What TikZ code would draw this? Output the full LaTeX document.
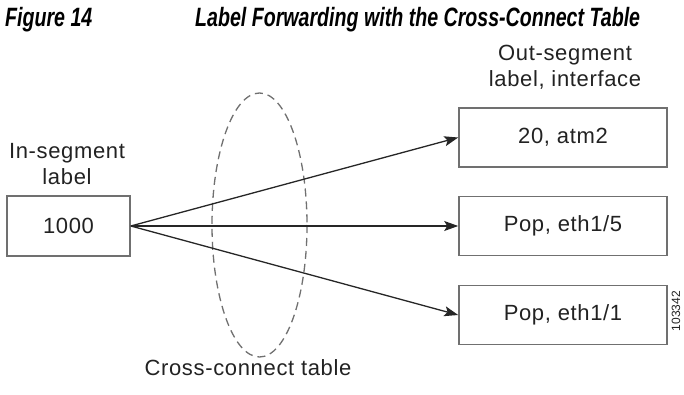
\documentclass[tikz,border=0pt]{standalone}
\usepackage{fontspec}
\setmainfont{Liberation Sans}
\newfontfamily\bodyfont[LetterSpace=3]{Liberation Sans}
\newfontfamily\titlefont[FakeStretch=0.74]{Liberation Sans}
\usetikzlibrary{arrows.meta}
\definecolor{boxline}{HTML}{707070}
\definecolor{txt}{HTML}{222222}
\tikzset{
  seg/.style={draw=boxline, line width=1.6pt, minimum width=208pt, minimum height=59pt, inner sep=0pt, font=\bodyfont\fontsize{22}{26}\selectfont, text=txt},
  inseg/.style={seg, minimum width=123pt, minimum height=60pt},
  lbl/.style={align=center, font=\bodyfont\fontsize{22}{26}\selectfont, text=txt, inner sep=0pt},
  fwd/.style={draw=black!85, line width=1.3pt, -{Stealth[length=14pt,width=10pt,inset=3pt]}},
  ttl/.style={anchor=base west, inner sep=0pt, font=\titlefont\bfseries\itshape\fontsize{26.5}{30}\selectfont}
}
\begin{document}
\begin{tikzpicture}[x=1pt,y=-1pt]
\useasboundingbox (0,0) rectangle (684,395);
\node[ttl] (fig) at (5,27) {Figure 14};
\node[ttl] (title) at (195,27) {Label Forwarding with the Cross-Connect Table};
% cross-connect table ellipse
\draw[boxline, line width=1.3pt, dash pattern=on 8pt off 5pt] (259.5,225) ellipse [x radius=47.5, y radius=132];
\node[inseg] (in) at (68.5,226) {1000};
\node[lbl] (inlbl) at (67,164) {In-segment\\label};
\node[seg] (o1) at (563,137.5) {20, atm2};
\node[seg] (o2) at (563,226) {Pop, eth1/5};
\node[seg] (o3) at (563,315) {Pop, eth1/1};
\node[lbl] (outlbl) at (565,67) {Out-segment\\label, interface};
\node[lbl] (cc) at (248,368) {Cross-connect table};
\node[rotate=90, font=\fontsize{12}{14}\selectfont, inner sep=0pt, text=txt] (num) at (676,311) {103342};
\draw[fwd] (in.east) -- (o1.west);
\draw[fwd] (in.east) -- (o2.west);
\draw[fwd] (in.east) -- (o3.west);
\end{tikzpicture}
\end{document}
